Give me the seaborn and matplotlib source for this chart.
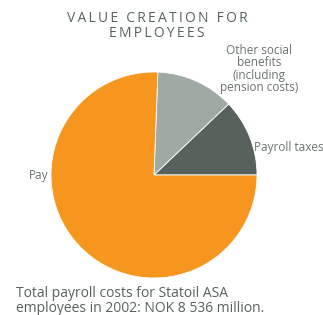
import matplotlib
matplotlib.use("Agg")
import matplotlib.pyplot as plt
import seaborn as sns

# data (shares, percent)
labels = ["Payroll taxes", "Other social\nbenefits\n(including\npension costs)", "Pay"]
shares = [12.1, 12.3, 75.6]
colors = ["#56625b", "#a0aaa5", "#f7961e"]

title = "VALUE CREATION FOR\nEMPLOYEES"
note = "Total payroll costs for Statoil ASA\nemployees in 2002: NOK 8 536 million."

sns.set_theme(style="white")
plt.rcParams["font.family"] = ["Open Sans", "DejaVu Sans"]

txt = "#6a746e"
dark = "#56625c"
W, H = 323, 315
fig = plt.figure(figsize=(W / 100, H / 100), dpi=100)

# pie axes: centre (154, 175), radius 103 px
cx, cy, r = 154, 175, 103
ax = fig.add_axes([(cx - r) / W, (H - cy - r) / H, 2 * r / W, 2 * r / H])
ax.pie(shares, colors=colors, startangle=0, counterclock=True,
       wedgeprops=dict(linewidth=0.6, edgecolor="white"))
ax.set_xlim(-1, 1)
ax.set_ylim(-1, 1)
ax.set_aspect("auto")
ax.axis("off")


def px(x, y):
    return x / W, 1 - y / H


# spaced-out title
spaced = "\n".join("\u2009".join(list(line)) for line in title.split("\n"))
fig.text(*px(157, 26), spaced, ha="center", va="center", fontsize=10,
         color=dark, linespacing=0.95)

# slice labels
fig.text(*px(48, 175), labels[2], ha="right", va="center", fontsize=8.5, color=txt)
fig.text(*px(254, 148), labels[0], ha="left", va="center", fontsize=8.5, color=txt)
fig.text(*px(259, 69), labels[1], ha="center", va="center", fontsize=8.5,
         color=txt, linespacing=0.95)

# footnote
fig.text(*px(16, 301), note, ha="left", va="center", fontsize=10,
         color=dark, linespacing=0.92)

fig.savefig("out.png", dpi=100, facecolor="white")
